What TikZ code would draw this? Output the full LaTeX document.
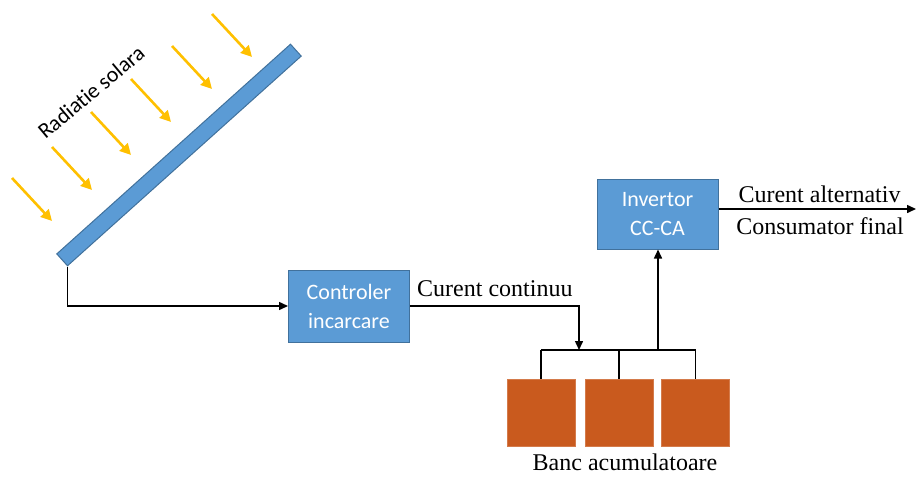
\documentclass[tikz,border=0pt]{standalone}
\usepackage{fontspec}
\setmainfont{Liberation Serif}
\newfontfamily\calib[Ligatures=NoCommon]{Carlito}
\usetikzlibrary{arrows.meta}
\definecolor{boxblue}{HTML}{5B9BD5}
\definecolor{boxedge}{HTML}{41719C}
\definecolor{battery}{HTML}{C95A1E}
\definecolor{sunray}{HTML}{FFC000}
\tikzset{
  bluebox/.style={draw=boxedge, fill=boxblue, line width=1pt, inner sep=0pt,
    text=white, font=\calib\fontsize{22}{29}\selectfont, align=center},
  cell/.style={fill=battery, draw=battery!80!white, line width=0.6pt,
    minimum width=68pt, minimum height=67pt, inner sep=0pt},
  wire/.style={line width=1.5pt, black},
  tip/.style={-{Triangle[length=9pt,width=8pt]}},
  ray/.style={sunray, line width=2.6pt, -{Triangle[length=11pt,width=11pt]}},
  lbl/.style={font=\fontsize{24}{28}\selectfont, inner sep=0pt},
}
\begin{document}
\begin{tikzpicture}[x=1pt,y=-1pt]
  \useasboundingbox (0,0) rectangle (917,476);

  % solar panel
  \node[draw=boxedge, fill=boxblue, line width=1pt, rotate=41.9,
        minimum width=314pt, minimum height=16pt, inner sep=0pt] (pv) at (179,155) {};

  % incoming radiation
  \foreach \sx/\sy in {12/178, 52/147, 91/112, 131/79, 172/46, 212/14}
    \draw[ray] (\sx,\sy) -- ++(40,43);
  \node[font=\calib\fontsize{22}{26}\selectfont, rotate=40, inner sep=0pt] (rad) at (91,92) {Radiatie solara};

  % charge controller and inverter
  \node[bluebox, minimum width=121pt, minimum height=72pt] (ctrl) at (349,306) {Controler\\incarcare};
  \node[bluebox, minimum width=121pt, minimum height=70pt] (inv) at (657.5,214) {Invertor\\CC-CA};

  % battery bank
  \node[cell] (b1) at (541,412.5) {};
  \node[cell] (b2) at (619,412.5) {};
  \node[cell] (b3) at (695.5,412.5) {};
  \node[lbl, anchor=base] (bank) at (625,470) {Banc acumulatoare};

  % bus bar above the cells
  \coordinate (busL) at (b1.north |- 0,350);
  \coordinate (busR) at (b3.north |- 0,350);
  \coordinate (busIn) at (579,350);
  \coordinate (busOut) at (658,350);
  \draw[wire] (busL) -- (busR);
  \draw[wire] (busL) -- (b1.north);
  \draw[wire] (b2.north |- busL) -- (b2.north);
  \draw[wire] (busR) -- (b3.north);

  % connectors
  \draw[wire, tip] (pv.south west) |- (ctrl.west);
  \draw[wire, tip] (ctrl.east) -| (busIn);
  \draw[wire, tip] (busOut) -- (busOut |- inv.south);
  \coordinate (load) at (916,209);
  \draw[wire, tip] (inv.east |- load) -- (load);

  % connector labels
  \node[lbl, anchor=base west] (dc) at (417,296) {Curent continuu};
  \node[lbl, anchor=base] (ac) at (819.5,202) {Curent alternativ};
  \node[lbl, anchor=base] (user) at (820,234) {Consumator final};
\end{tikzpicture}
\end{document}
